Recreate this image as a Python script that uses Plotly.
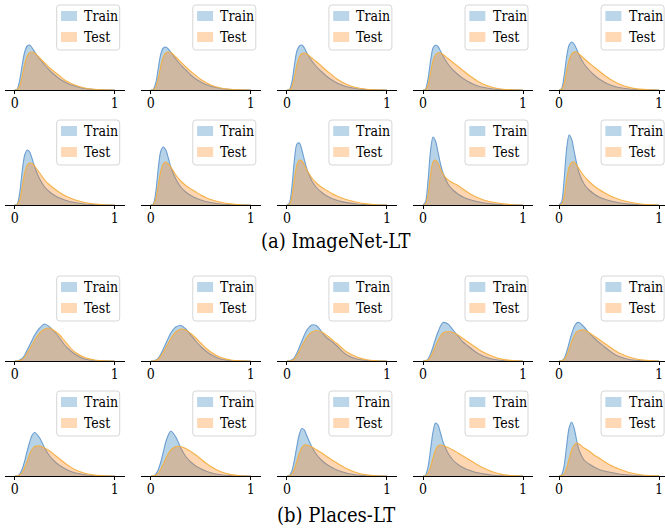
import plotly.graph_objects as go

# ---------------- data (density) ----------------
x_grid = [0, 0.025, 0.05, 0.075, 0.1, 0.125, 0.15, 0.175, 0.2, 0.25, 0.3,
          0.35, 0.4, 0.45, 0.5, 0.55, 0.6, 0.7, 0.8, 0.9, 1.0]

series_names = ["Train", "Test"]
tick_vals = [0, 1]
tick_text = ["0", "1"]
captions = ["(a) ImageNet-LT", "(b) Places-LT"]

imagenet_row1_train = [
    [0, 0.1, 1.0, 2.5, 3.8, 4.4, 4.5, 4.2, 3.8, 3.1, 2.5, 1.95, 1.5, 1.1, 0.8, 0.55, 0.4, 0.15, 0.05, 0.01, 0],
    [0, 0.05, 0.7, 2.2, 3.6, 4.2, 4.3, 4.1, 3.8, 3.1, 2.5, 2.0, 1.5, 1.1, 0.8, 0.55, 0.38, 0.15, 0.05, 0.01, 0],
    [0, 0.05, 0.8, 2.5, 3.9, 4.4, 4.5, 4.2, 3.7, 2.9, 2.3, 1.8, 1.35, 1.0, 0.7, 0.5, 0.33, 0.13, 0.04, 0.01, 0],
    [0, 0.1, 1.1, 2.9, 4.2, 4.5, 4.35, 3.9, 3.4, 2.6, 2.0, 1.55, 1.15, 0.85, 0.6, 0.4, 0.27, 0.1, 0.03, 0.01, 0],
    [0, 0.15, 1.4, 3.3, 4.5, 4.8, 4.6, 4.1, 3.5, 2.6, 2.0, 1.5, 1.1, 0.8, 0.55, 0.38, 0.25, 0.1, 0.03, 0.01, 0],
]
imagenet_row1_test = [
    [0, 0.03, 0.4, 1.4, 2.6, 3.4, 3.75, 3.8, 3.7, 3.2, 2.7, 2.2, 1.8, 1.4, 1.0, 0.72, 0.5, 0.2, 0.07, 0.02, 0],
    [0, 0.02, 0.3, 1.2, 2.4, 3.3, 3.7, 3.8, 3.75, 3.3, 2.8, 2.3, 1.85, 1.45, 1.05, 0.75, 0.5, 0.2, 0.07, 0.02, 0],
    [0, 0.02, 0.3, 1.3, 2.5, 3.3, 3.65, 3.7, 3.6, 3.2, 2.8, 2.35, 1.9, 1.5, 1.1, 0.8, 0.55, 0.22, 0.08, 0.02, 0],
    [0, 0.03, 0.5, 1.7, 2.9, 3.5, 3.7, 3.7, 3.55, 3.15, 2.75, 2.35, 1.95, 1.55, 1.2, 0.85, 0.6, 0.25, 0.08, 0.02, 0],
    [0, 0.05, 0.6, 1.9, 3.0, 3.6, 3.8, 3.8, 3.6, 3.15, 2.7, 2.3, 1.9, 1.5, 1.15, 0.85, 0.6, 0.26, 0.09, 0.02, 0],
]
imagenet_row2_train = [
    [0, 0.1, 1.2, 3.4, 5.0, 5.5, 5.3, 4.6, 3.8, 2.6, 1.8, 1.3, 0.95, 0.7, 0.5, 0.35, 0.25, 0.1, 0.04, 0.01, 0],
    [0, 0.1, 1.3, 3.7, 5.4, 5.8, 5.5, 4.7, 3.8, 2.6, 1.8, 1.3, 0.95, 0.7, 0.5, 0.35, 0.25, 0.1, 0.04, 0.01, 0],
    [0, 0.2, 1.8, 4.5, 6.1, 6.2, 5.5, 4.5, 3.6, 2.4, 1.7, 1.25, 0.9, 0.65, 0.48, 0.34, 0.24, 0.1, 0.04, 0.01, 0],
    [0, 0.3, 2.4, 5.4, 6.8, 6.4, 5.3, 4.1, 3.2, 2.1, 1.5, 1.1, 0.8, 0.6, 0.45, 0.32, 0.22, 0.09, 0.03, 0.01, 0],
    [0, 0.3, 2.5, 5.6, 7.0, 6.6, 5.4, 4.2, 3.2, 2.1, 1.5, 1.1, 0.8, 0.6, 0.45, 0.32, 0.22, 0.09, 0.03, 0.01, 0],
]
imagenet_row2_test = [
    [0, 0.03, 0.5, 1.8, 3.2, 4.0, 4.2, 4.15, 3.9, 3.2, 2.5, 2.0, 1.6, 1.25, 0.95, 0.72, 0.52, 0.25, 0.1, 0.03, 0],
    [0, 0.03, 0.6, 2.0, 3.4, 4.15, 4.3, 4.1, 3.8, 3.0, 2.4, 1.95, 1.6, 1.3, 1.0, 0.75, 0.55, 0.28, 0.11, 0.03, 0],
    [0, 0.05, 0.8, 2.6, 4.0, 4.5, 4.4, 4.0, 3.5, 2.7, 2.15, 1.75, 1.45, 1.15, 0.9, 0.7, 0.52, 0.27, 0.11, 0.03, 0],
    [0, 0.08, 1.0, 3.0, 4.3, 4.5, 4.2, 3.6, 3.1, 2.5, 2.2, 1.95, 1.6, 1.25, 0.95, 0.72, 0.53, 0.27, 0.11, 0.03, 0],
    [0, 0.06, 0.8, 2.5, 3.8, 4.25, 4.3, 4.0, 3.6, 2.9, 2.35, 1.9, 1.55, 1.25, 0.98, 0.75, 0.56, 0.3, 0.12, 0.04, 0],
]
places_row1_train = [
    [0, 0, 0.1, 0.25, 0.6, 1.1, 1.6, 2.1, 2.6, 3.3, 3.7, 3.4, 2.9, 2.3, 1.6, 1.1, 0.7, 0.2, 0.05, 0.01, 0],
    [0, 0, 0.1, 0.3, 0.7, 1.2, 1.75, 2.3, 2.8, 3.4, 3.55, 3.2, 2.6, 2.0, 1.45, 1.0, 0.65, 0.2, 0.05, 0.01, 0],
    [0, 0, 0.12, 0.35, 0.8, 1.4, 2.0, 2.6, 3.1, 3.6, 3.5, 2.9, 2.3, 1.95, 1.5, 1.0, 0.6, 0.2, 0.05, 0.01, 0],
    [0, 0.02, 0.2, 0.7, 1.4, 2.2, 2.9, 3.5, 3.85, 3.7, 3.1, 2.5, 1.9, 1.5, 1.1, 0.75, 0.5, 0.17, 0.05, 0.01, 0],
    [0, 0.02, 0.25, 0.9, 1.8, 2.7, 3.4, 3.8, 3.85, 3.4, 2.8, 2.3, 1.85, 1.45, 1.05, 0.7, 0.45, 0.15, 0.05, 0.01, 0],
]
places_row1_test = [
    [0, 0, 0.05, 0.15, 0.4, 0.8, 1.2, 1.65, 2.1, 2.8, 3.2, 3.3, 3.0, 2.6, 2.0, 1.4, 0.9, 0.35, 0.1, 0.02, 0],
    [0, 0, 0.05, 0.2, 0.5, 0.9, 1.35, 1.8, 2.25, 2.9, 3.2, 3.1, 2.75, 2.3, 1.8, 1.3, 0.9, 0.35, 0.1, 0.02, 0],
    [0, 0, 0.06, 0.2, 0.55, 1.0, 1.5, 1.95, 2.4, 2.9, 3.05, 2.9, 2.55, 2.15, 1.75, 1.3, 0.9, 0.4, 0.12, 0.03, 0],
    [0, 0.01, 0.1, 0.4, 0.9, 1.5, 2.05, 2.5, 2.8, 2.95, 2.85, 2.6, 2.25, 1.9, 1.55, 1.2, 0.9, 0.45, 0.16, 0.04, 0],
    [0, 0.01, 0.15, 0.55, 1.2, 1.9, 2.5, 2.9, 3.05, 3.1, 2.85, 2.5, 2.15, 1.8, 1.45, 1.1, 0.8, 0.4, 0.15, 0.04, 0],
]
places_row2_train = [
    [0, 0.02, 0.2, 0.7, 1.5, 2.5, 3.4, 4.1, 4.35, 3.8, 2.8, 2.0, 1.45, 1.05, 0.75, 0.5, 0.32, 0.12, 0.04, 0.01, 0],
    [0, 0.02, 0.2, 0.65, 1.4, 2.4, 3.4, 4.1, 4.5, 3.9, 2.8, 1.95, 1.4, 1.0, 0.72, 0.5, 0.33, 0.12, 0.04, 0.01, 0],
    [0, 0.05, 0.5, 1.6, 3.0, 4.2, 4.75, 4.6, 4.0, 2.9, 2.1, 1.55, 1.15, 0.85, 0.6, 0.42, 0.28, 0.1, 0.03, 0.01, 0],
    [0, 0.08, 0.9, 2.6, 4.4, 5.3, 5.1, 4.3, 3.4, 2.3, 1.6, 1.15, 0.85, 0.62, 0.45, 0.32, 0.22, 0.08, 0.03, 0.01, 0],
    [0, 0.12, 1.0, 3.0, 4.8, 5.4, 4.8, 3.6, 2.6, 1.6, 1.2, 0.9, 0.65, 0.5, 0.4, 0.3, 0.2, 0.1, 0.03, 0.01, 0],
]
places_row2_test = [
    [0, 0.01, 0.1, 0.35, 0.85, 1.5, 2.2, 2.7, 2.95, 3.0, 2.8, 2.5, 2.1, 1.7, 1.3, 0.95, 0.65, 0.28, 0.09, 0.02, 0],
    [0, 0.01, 0.08, 0.3, 0.7, 1.2, 1.75, 2.25, 2.6, 2.95, 2.95, 2.75, 2.45, 2.1, 1.7, 1.3, 0.95, 0.42, 0.14, 0.03, 0],
    [0, 0.02, 0.2, 0.7, 1.5, 2.3, 2.85, 3.1, 3.1, 2.9, 2.6, 2.3, 1.95, 1.6, 1.3, 1.0, 0.72, 0.32, 0.11, 0.03, 0],
    [0, 0.02, 0.25, 0.9, 1.8, 2.6, 3.0, 3.1, 3.05, 2.85, 2.6, 2.3, 2.0, 1.7, 1.4, 1.1, 0.82, 0.4, 0.14, 0.04, 0],
    [0, 0.04, 0.2, 0.8, 1.7, 2.6, 3.1, 3.3, 3.2, 2.8, 2.5, 2.1, 1.8, 1.45, 1.15, 0.9, 0.7, 0.35, 0.15, 0.04, 0.01],
]

rows = [
    (imagenet_row1_train, imagenet_row1_test),
    (imagenet_row2_train, imagenet_row2_test),
    (places_row1_train, places_row1_test),
    (places_row2_train, places_row2_test),
]

# ---------------- styling / geometry ----------------
W, H = 665, 531
SERIF = "DejaVu Serif Condensed, DejaVu Serif"
fill_colors = ["rgba(31,119,180,0.32)", "rgba(255,127,14,0.32)"]
legend_patch_colors = ["rgba(31,119,180,0.3)", "rgba(255,127,14,0.3)"]
line_colors = ["rgba(95,150,205,0.9)", "rgba(243,175,65,0.95)"]

col_left = [4.7 + 136.1 * c for c in range(5)]
row_top = [2, 117, 273, 388]
AX_W, AX_H = 120, 88
X_MIN = -0.1
PX_PER_UNIT = 100.0
Y_TOP = AX_H / 10.0


def px(x):
    return x / W


def py(y):
    return 1 - y / H


def rounded_rect(x0, y0, x1, y1, r):
    pts = [
        ("M", [(x0 + r, y0)]), ("L", [(x1 - r, y0)]), ("Q", [(x1, y0), (x1, y0 + r)]),
        ("L", [(x1, y1 - r)]), ("Q", [(x1, y1), (x1 - r, y1)]),
        ("L", [(x0 + r, y1)]), ("Q", [(x0, y1), (x0, y1 - r)]),
        ("L", [(x0, y0 + r)]), ("Q", [(x0, y0), (x0 + r, y0)]),
    ]
    s = ""
    for cmd, ps in pts:
        s += cmd + " " + " ".join(f"{px(a):.5f},{py(b):.5f}" for a, b in ps) + " "
    return s + "Z"


fig = go.Figure()
layout = dict(
    width=W, height=H, margin=dict(l=0, r=0, t=0, b=0),
    paper_bgcolor="white", plot_bgcolor="rgba(0,0,0,0)", showlegend=False,
    font=dict(family=SERIF, color="black"),
)
shapes, annotations = [], []

for r, (train_rows, test_rows) in enumerate(rows):
    for c in range(5):
        idx = r * 5 + c + 1
        xa = "x" if idx == 1 else f"x{idx}"
        ya = "y" if idx == 1 else f"y{idx}"
        left = col_left[c]
        right = min(left + AX_W, W)
        top = row_top[r]
        bottom = top + AX_H
        for s, vals in enumerate([train_rows[c], test_rows[c]]):
            fig.add_trace(go.Scatter(
                x=x_grid, y=vals, xaxis=xa, yaxis=ya, mode="lines",
                line=dict(color=line_colors[s], width=1.1, shape="spline", smoothing=0.8),
                fill="tozeroy", fillcolor=fill_colors[s], name=series_names[s],
                hoverinfo="skip",
            ))
        kx = "xaxis" if idx == 1 else f"xaxis{idx}"
        ky = "yaxis" if idx == 1 else f"yaxis{idx}"
        layout[kx] = dict(
            domain=[px(left), px(right)], anchor=ya,
            range=[X_MIN, X_MIN + (right - left) / PX_PER_UNIT],
            showgrid=False, zeroline=False, showline=True, linecolor="black", linewidth=1.3,
            ticks="outside", ticklen=3, tickwidth=1, tickcolor="black",
            tickvals=tick_vals, ticktext=tick_text, ticklabelstandoff=-3,
            tickfont=dict(family=SERIF, size=14, color="black"),
            fixedrange=True,
        )
        layout[ky] = dict(
            domain=[py(bottom), py(top)], anchor=xa, range=[0, Y_TOP],
            visible=False, fixedrange=True,
        )
        # legend box (matplotlib style) relative to the full axes box
        full_right = left + AX_W
        bx0, bx1 = full_right - 68, full_right - 5
        by0, by1 = top + 3, top + 48
        shapes.append(dict(
            type="path", xref="paper", yref="paper", layer="above",
            path=rounded_rect(bx0, by0, bx1, by1, 3),
            fillcolor="rgba(255,255,255,0.8)", line=dict(color="#d6d6d6", width=1),
        ))
        for s, cy in enumerate([top + 14, top + 35]):
            shapes.append(dict(
                type="rect", xref="paper", yref="paper", layer="above",
                x0=px(bx0 + 4.3), x1=px(bx0 + 20.3), y0=py(cy + 5), y1=py(cy - 5),
                fillcolor=legend_patch_colors[s], line=dict(width=0),
            ))
            annotations.append(dict(
                xref="paper", yref="paper", x=px(bx0 + 25.5), y=py(cy),
                xanchor="left", yanchor="middle", showarrow=False,
                text=series_names[s], font=dict(family=SERIF, size=14, color="black"),
            ))

for text, cy in zip(captions, [241, 515]):
    annotations.append(dict(
        xref="paper", yref="paper", x=px(336), y=py(cy), xanchor="center", yanchor="middle",
        showarrow=False, text=text, font=dict(family=SERIF, size=20, color="black"),
    ))

layout["shapes"] = shapes
layout["annotations"] = annotations
fig.update_layout(**layout)
fig.write_html("out.html")
